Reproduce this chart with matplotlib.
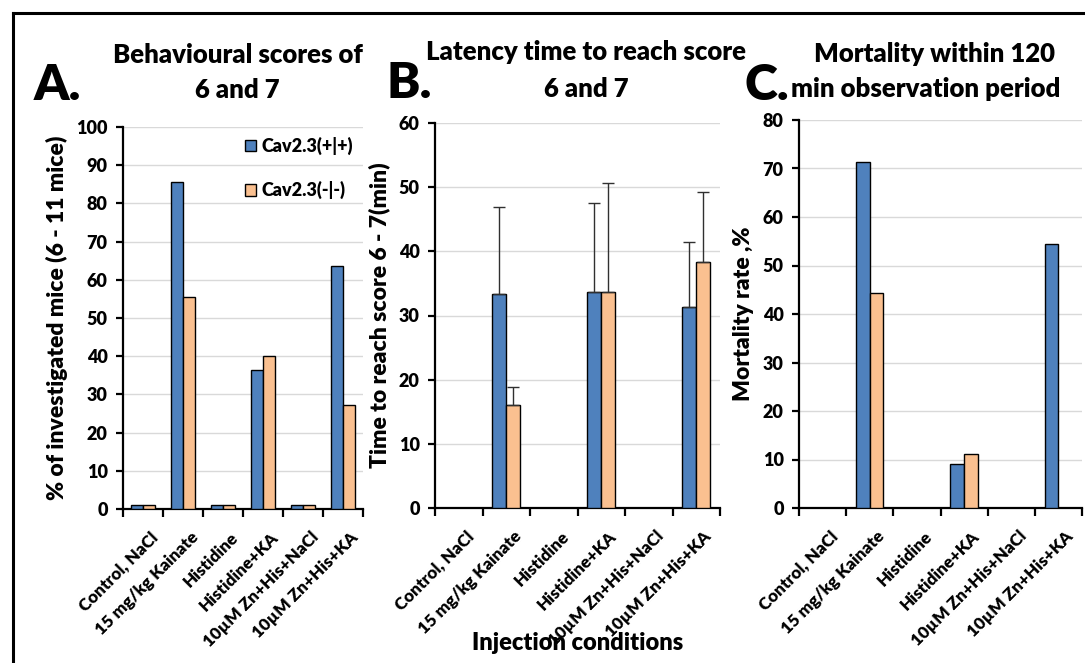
import matplotlib
matplotlib.use("Agg")
import matplotlib.pyplot as plt
import matplotlib.transforms as mtransforms
import numpy as np

plt.rcParams['font.family'] = ['Lato', 'DejaVu Sans']
plt.rcParams['font.weight'] = 'heavy'
WT = 'heavy'

categories = ["Control, NaCl", "15 mg/kg Kainate", "Histidine", "Histidine+KA",
              "10µM Zn+His+NaCl", "10µM Zn+His+KA"]
series_names = ["Cav2.3(+|+)", "Cav2.3(-|-)"]

# Panel A: % of mice reaching score 6-7
a_wt = [1, 85.7, 1, 36.4, 1, 63.6]
a_ko = [1, 55.6, 1, 40.0, 1, 27.3]

# Panel B: latency (min) with upper error
b_wt = [0, 33.3, 0, 33.7, 0, 31.4]
b_ko = [0, 16.0, 0, 33.7, 0, 38.3]
b_wt_err = [0, 13.6, 0, 13.9, 0, 10.1]
b_ko_err = [0, 2.8, 0, 17.0, 0, 10.9]

# Panel C: mortality rate %
c_wt = [0, 71.4, 0, 9.1, 0, 54.5]
c_ko = [0, 44.4, 0, 11.1, 0, 0]

BLUE = "#4F81BD"
ORANGE = "#FAC090"
W, H = 1085, 663

fig = plt.figure(figsize=(W / 100, H / 100), dpi=100)

def rect(l, r, t, b):
    return [l / W, 1 - b / H, (r - l) / W, (b - t) / H]

def px(x, y):
    return x / W, 1 - y / H

# Outer frame lines
fig.add_artist(plt.Line2D([13 / W, 13 / W], [0, 1 - 13 / H], color='black', lw=2.2))
fig.add_artist(plt.Line2D([13 / W, 1], [1 - 13 / H, 1 - 13 / H], color='black', lw=2.2))

label_shift = mtransforms.ScaledTranslation(7 / 100, -5 / 100, fig.dpi_scale_trans)

def draw_panel(pos, wt, ko, ymax, ystep, ylabel, wt_err=None, ko_err=None):
    ax = fig.add_axes(pos)
    x = np.arange(len(categories))
    bw = 0.29
    ax.bar(x - bw / 2, wt, bw, color=BLUE, edgecolor='black', linewidth=1.0,
           label=series_names[0], zorder=3)
    ax.bar(x + bw / 2, ko, bw, color=ORANGE, edgecolor='black', linewidth=1.0,
           label=series_names[1], zorder=3)
    if wt_err is not None:
        for xs, vals, errs in ((x - bw / 2, wt, wt_err), (x + bw / 2, ko, ko_err)):
            m = np.array(errs) > 0
            ax.errorbar(np.asarray(xs)[m], np.asarray(vals)[m],
                        yerr=[np.zeros(m.sum()), np.asarray(errs)[m]],
                        fmt='none', ecolor='#303030', elinewidth=1.0,
                        capsize=4, capthick=1.0, zorder=4)
    ax.set_xlim(-0.5, len(categories) - 0.5)
    ax.set_ylim(0, ymax)
    ax.set_yticks(np.arange(0, ymax + 0.1, ystep))
    ax.yaxis.grid(True, color='#d9d9d9', linewidth=1.0, zorder=0)
    ax.set_axisbelow(True)
    for s in ('top', 'right'):
        ax.spines[s].set_visible(False)
    for s in ('left', 'bottom'):
        ax.spines[s].set_linewidth(1.6)
    ax.set_xticks(x)
    ax.set_xticklabels(categories, rotation=45, ha='right', rotation_mode='anchor',
                       fontsize=12.3, fontweight=WT)
    ax.tick_params(axis='x', which='major', length=0, pad=11)
    for t in ax.get_xticklabels():
        t.set_transform(t.get_transform() + label_shift)
    ax.set_xticks(np.arange(-0.5, len(categories), 1.0), minor=True)
    ax.tick_params(axis='x', which='minor', length=6, width=1.6, direction='out')
    ax.tick_params(axis='y', length=5, width=1.6, labelsize=13, pad=6)
    for t in ax.get_yticklabels():
        t.set_fontweight(WT)
    ax.set_ylabel(ylabel, fontsize=16.5, fontweight=WT, labelpad=6)
    return ax

axA = draw_panel(rect(123, 363, 127, 509), a_wt, a_ko, 100, 10,
                 "% of investigated mice (6 - 11 mice)")
axB = draw_panel(rect(435, 720, 123, 508), b_wt, b_ko, 60, 10,
                 "Time to reach score 6 - 7(min)", b_wt_err, b_ko_err)
axC = draw_panel(rect(799, 1082, 120, 508), c_wt, c_ko, 80, 10,
                 "Mortality rate ,%")

leg = axA.legend(loc='upper left', bbox_to_anchor=(0.48, 0.993), frameon=False,
                 fontsize=13, labelspacing=1.45, handlelength=0.6, handleheight=0.6,
                 handletextpad=0.3, borderaxespad=0)
for t in leg.get_texts():
    t.set_fontweight(WT)

# Titles
tfs = 18.5
def title(x, y, s):
    fig.text(*px(x, y), s, ha='center', va='baseline', fontsize=tfs, fontweight=WT)

title(238, 63, "Behavioural scores of")
title(237, 98, "6 and 7")
title(586, 60, "Latency time to reach score")
title(586, 97, "6 and 7")
title(934, 62, "Mortality within 120")
title(926, 97, "min observation period")

# Panel letters
lfs = 36
fig.text(*px(34, 100), "A.", ha='left', va='baseline', fontsize=lfs, fontweight=WT)
fig.text(*px(387, 98), "B.", ha='left', va='baseline', fontsize=lfs, fontweight=WT)
fig.text(*px(744, 100), "C.", ha='left', va='baseline', fontsize=lfs, fontweight=WT)

fig.text(*px(578, 650), "Injection conditions", ha='center', va='baseline', fontsize=17, fontweight=WT)

fig.savefig("out.png", dpi=100)
